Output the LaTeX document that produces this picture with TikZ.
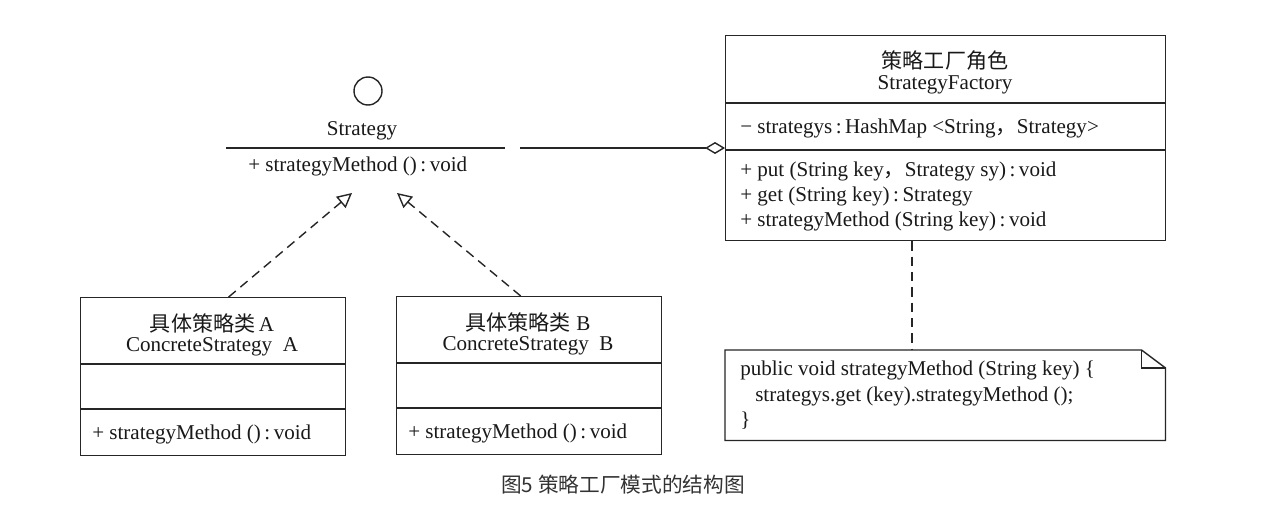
\documentclass[tikz,border=0pt]{standalone}
\usepackage{fontspec}
\setmainfont{Liberation Serif}
\newfontfamily\cjk{Noto Sans CJK SC}
\usetikzlibrary{arrows.meta,calc}
\newcommand{\cln}{\,:\,}
\begin{document}
\begin{tikzpicture}[x=0.75pt,y=-0.75pt,
  line/.style={draw=black!85, line width=1.05pt},
  txt/.style={font=\fontsize{15.8}{18}\selectfont, text=black!90, inner sep=0pt},
  cls/.style={line, rectangle, inner sep=0pt, anchor=north west},
  dsh/.style={line, dash pattern=on 7pt off 4.5pt},
  realize/.style={dsh, -{Triangle[open,length=11pt,width=11pt]}},
  aggr/.style={line, -{Diamond[open,length=15pt,width=9pt]}},
]
\path[fill=white] (0,0) rectangle (1282,507);

% Strategy interface
\node[line, circle, minimum size=21pt, inner sep=0pt] (icon) at (368,91) {};
\node[txt] (sname) at (362,131) {Strategy};
\coordinate (sl) at (226,148);
\coordinate (sr) at (505,148);
\draw[line] (sl) -- (sr);
\node[txt, anchor=west] (smeth) at (248,166) {+ strategyMethod ()\cln void};
\coordinate (tA) at (352,193);
\coordinate (tB) at (397,193);

% Concrete A
\node[cls, minimum width=198.75pt, minimum height=118.5pt] (A) at (80,297) {};
\node[txt] (At1) at (212,323) {{\cjk 具体策略类}\,A};
\node[txt] (At2) at (212,347) {ConcreteStrategy\ \ A};
\draw[line] ($(A.north west)+(0,67)$) -- ($(A.north east)+(0,67)$);
\draw[line] ($(A.north west)+(0,112)$) -- ($(A.north east)+(0,112)$);
\node[txt, anchor=west] (Am) at (92,434) {+ strategyMethod ()\cln void};

% Concrete B
\node[cls, minimum width=198.75pt, minimum height=118.5pt] (B) at (396,296) {};
\node[txt] (Bt1) at (528,322) {{\cjk 具体策略类}\ B};
\node[txt] (Bt2) at (528,346) {ConcreteStrategy\ \ B};
\draw[line] ($(B.north west)+(0,67)$) -- ($(B.north east)+(0,67)$);
\draw[line] ($(B.north west)+(0,112)$) -- ($(B.north east)+(0,112)$);
\node[txt, anchor=west] (Bm) at (408,433) {+ strategyMethod ()\cln void};

\draw[realize] ($(A.north west)!0.558!(A.north east)$) -- (tA);
\draw[realize] ($(B.north west)!0.468!(B.north east)$) -- (tB);

% Factory
\node[cls, minimum width=330pt, minimum height=153.75pt] (F) at (725,35) {};
\node[txt] (Ft1) at (945,61) {\cjk 策略工厂角色};
\node[txt] (Ft2) at (945,85) {StrategyFactory};
\draw[line] ($(F.north west)+(0,68)$) -- ($(F.north east)+(0,68)$);
\draw[line] ($(F.north west)+(0,115)$) -- ($(F.north east)+(0,115)$);
\node[txt, anchor=west] (Fa) at (740,128) {− strategys\cln HashMap <String{\cjk ，}Strategy>};
\node[txt, anchor=west] (Fm1) at (740,171) {+ put (String key{\cjk ，}Strategy sy)\cln void};
\node[txt, anchor=west] (Fm2) at (740,196) {+ get (String key)\cln Strategy};
\node[txt, anchor=west] (Fm3) at (740,221) {+ strategyMethod (String key)\cln void};

\coordinate (ag) at (520,148);
\draw[aggr] (ag) -- ($(F.north west)+(0,113)$);

% Note
\node[rectangle, inner sep=0pt, anchor=north west, minimum width=330pt, minimum height=67.5pt] (N) at (725,350) {};
\draw[line, line join=miter] (N.north west) -- ($(N.north east)+(-24,0)$) -- ($(N.north east)+(0,18)$) -- (N.south east) -- (N.south west) -- cycle;
\draw[line] ($(N.north east)+(-24,0)$) -- ($(N.north east)+(-24,18)$) -- ($(N.north east)+(0,18)$);
\node[txt, anchor=west] (Nt1) at (740,370) {public void strategyMethod (String key) \{};
\node[txt, anchor=west] (Nt2) at (755,396) {strategys.get (key).strategyMethod ();};
\node[txt, anchor=west] (Nt3) at (740,421) {\}};
\draw[dsh] ($(F.south west)+(187,0)$) -- ($(N.north west)+(187,0)$);

% Caption
\node[font=\cjk\fontsize{15.5}{18}\selectfont, text=black!80, inner sep=0pt] (cap) at (623,485) {图5 策略工厂模式的结构图};
\end{tikzpicture}
\end{document}
